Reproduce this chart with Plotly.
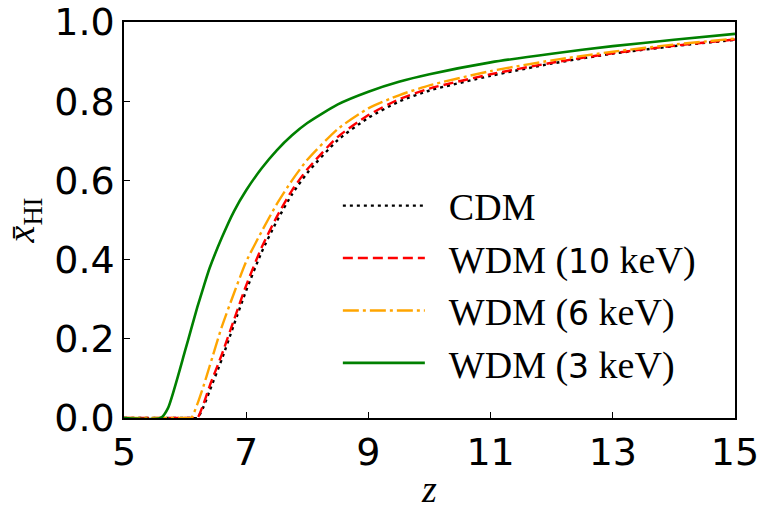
import plotly.graph_objects as go

# Redshift grid
z = [5.0, 5.6, 5.72, 6.0, 6.1, 6.2, 6.3, 6.4, 6.6, 6.8, 7.0, 7.25, 7.5, 7.75,
     8.0, 8.5, 9.0, 9.5, 10.0, 11.0, 12.0, 13.0, 14.0, 15.0]

# Mean neutral hydrogen fraction for each model
x_cdm = [0, 0, 0, 0, 0, 0, 0.028, 0.068, 0.148, 0.236, 0.322, 0.418, 0.497, 0.565,
         0.619, 0.702, 0.758, 0.799, 0.827, 0.864, 0.895, 0.920, 0.939, 0.955]
x_wdm10 = [0, 0, 0, 0, 0, 0, 0.035, 0.08, 0.16, 0.248, 0.335, 0.43, 0.508, 0.575,
           0.628, 0.710, 0.765, 0.805, 0.832, 0.868, 0.897, 0.921, 0.940, 0.956]
x_wdm6 = [0, 0, 0, 0, 0, 0.035, 0.08, 0.13, 0.23, 0.315, 0.395, 0.47, 0.54, 0.60,
          0.652, 0.730, 0.782, 0.815, 0.840, 0.876, 0.903, 0.925, 0.943, 0.958]
x_wdm3 = [0, 0, 0.025, 0.17, 0.225, 0.28, 0.33, 0.378, 0.455, 0.522, 0.575, 0.63,
          0.676, 0.714, 0.745, 0.792, 0.824, 0.849, 0.868, 0.898, 0.920, 0.939, 0.955, 0.970]

x_ticks = [5, 7, 9, 11, 13, 15]
y_ticks = [0.0, 0.2, 0.4, 0.6, 0.8, 1.0]
y_tick_labels = ["0.0", "0.2", "0.4", "0.6", "0.8", "1.0"]

SANS = "DejaVu Sans"
SERIF = "Liberation Serif"
PAD = "&nbsp;&nbsp;"

def lab(num):
    return (PAD + "WDM (<span style=\"font-family:'DejaVu Sans';font-size:33px\">" + num +
            "</span> keV)")

series = [
    (PAD + "CDM", x_cdm, "black", "3px,4px", 2.4),
    (lab("10"), x_wdm10, "red", "10px,5px", 2.4),
    (lab("6"), x_wdm6, "orange", "16px,4px,3px,4px", 2.4),
    (lab("3"), x_wdm3, "green", "solid", 2.6),
]

fig = go.Figure()
for i, (name, y, color, dash, w) in enumerate(series):
    fig.add_trace(go.Scatter(
        x=z, y=y, mode="lines", name=name, legendgroup=str(i),
        line=dict(color=color, dash=dash, width=w, shape="spline", smoothing=0.6),
    ))

fig.update_layout(
    width=761, height=510,
    margin=dict(l=124, r=26, t=22, b=92, autoexpand=False),
    plot_bgcolor="white", paper_bgcolor="white",
    showlegend=True,
    legend=dict(
        x=0.35, y=0.615, xanchor="left", yanchor="top",
        bgcolor="rgba(0,0,0,0)", borderwidth=0,
        font=dict(family=SERIF, size=38, color="black"),
        tracegroupgap=0, itemwidth=82,
    ),
    xaxis=dict(
        range=[5, 15], tickvals=x_ticks, ticktext=[str(t) for t in x_ticks],
        ticks="inside", ticklen=6, tickwidth=1, tickcolor="black",
        showline=True, linecolor="black", linewidth=1.5, mirror=True,
        showgrid=False, zeroline=False, automargin=False,
        tickfont=dict(family=SANS, size=38, color="black"),
        title=dict(text="<i>z</i>", font=dict(family=SERIF, size=38, color="black"),
                   standoff=14),
    ),
    yaxis=dict(
        range=[0, 1], tickvals=y_ticks, ticktext=y_tick_labels,
        ticks="inside", ticklen=6, tickwidth=1, tickcolor="black",
        showline=True, linecolor="black", linewidth=1.5, mirror=True,
        showgrid=False, zeroline=False, automargin=False,
        tickfont=dict(family=SANS, size=38, color="black"),
        title=dict(text="<i>x\u0304</i><sub>HI</sub>",
                   font=dict(family=SERIF, size=38, color="black"), standoff=12),
    ),
)

fig.write_html("out.html")
